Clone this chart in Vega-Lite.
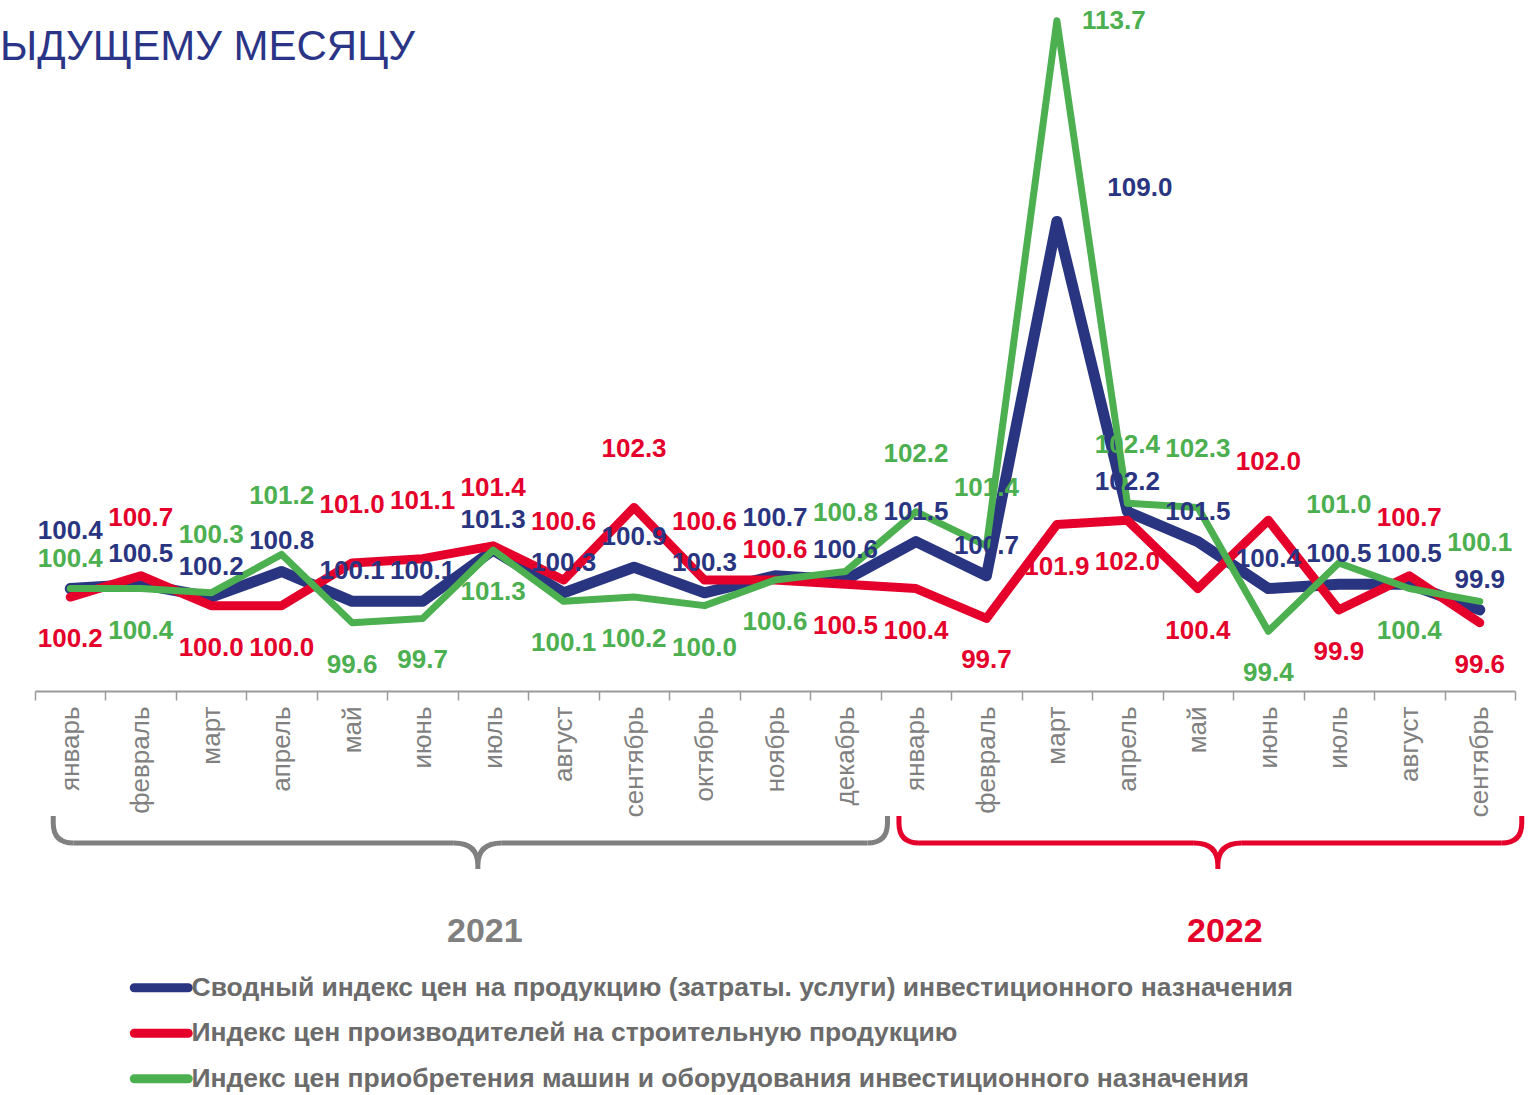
{
  "$schema": "https://vega.github.io/schema/vega-lite/v6.json",
  "padding": {"left": 0, "top": 7, "right": 0, "bottom": 0},
  "background": "white",
  "config": {"view": {"stroke": null}, "font": "Liberation Sans"},
  "title": {
    "text": "ЫДУЩЕМУ МЕСЯЦУ",
    "anchor": "start",
    "frame": "group",
    "dx": -35,
    "offset": -61,
    "fontSize": 42,
    "font": "Liberation Sans",
    "fontWeight": "normal",
    "color": "#2B3587"
  },
  "datasets": {
    "months": [
      {"n": 1, "m": "январь 2021", "year": "2021", "a": 100.4, "b": 100.2, "c": 100.4},
      {"n": 2, "m": "февраль 2021", "year": "2021", "a": 100.5, "b": 100.7, "c": 100.4},
      {"n": 3, "m": "март 2021", "year": "2021", "a": 100.2, "b": 100.0, "c": 100.3},
      {"n": 4, "m": "апрель 2021", "year": "2021", "a": 100.8, "b": 100.0, "c": 101.2},
      {"n": 5, "m": "май 2021", "year": "2021", "a": 100.1, "b": 101.0, "c": 99.6},
      {"n": 6, "m": "июнь 2021", "year": "2021", "a": 100.1, "b": 101.1, "c": 99.7},
      {"n": 7, "m": "июль 2021", "year": "2021", "a": 101.3, "b": 101.4, "c": 101.3},
      {"n": 8, "m": "август 2021", "year": "2021", "a": 100.3, "b": 100.6, "c": 100.1},
      {"n": 9, "m": "сентябрь 2021", "year": "2021", "a": 100.9, "b": 102.3, "c": 100.2},
      {"n": 10, "m": "октябрь 2021", "year": "2021", "a": 100.3, "b": 100.6, "c": 100.0},
      {"n": 11, "m": "ноябрь 2021", "year": "2021", "a": 100.7, "b": 100.6, "c": 100.6},
      {"n": 12, "m": "декабрь 2021", "year": "2021", "a": 100.6, "b": 100.5, "c": 100.8},
      {"n": 13, "m": "январь 2022", "year": "2022", "a": 101.5, "b": 100.4, "c": 102.2},
      {"n": 14, "m": "февраль 2022", "year": "2022", "a": 100.7, "b": 99.7, "c": 101.4},
      {"n": 15, "m": "март 2022", "year": "2022", "a": 109.0, "b": 101.9, "c": 113.7},
      {"n": 16, "m": "апрель 2022", "year": "2022", "a": 102.2, "b": 102.0, "c": 102.4},
      {"n": 17, "m": "май 2022", "year": "2022", "a": 101.5, "b": 100.4, "c": 102.3},
      {"n": 18, "m": "июнь 2022", "year": "2022", "a": 100.4, "b": 102.0, "c": 99.4},
      {"n": 19, "m": "июль 2022", "year": "2022", "a": 100.5, "b": 99.9, "c": 101.0},
      {"n": 20, "m": "август 2022", "year": "2022", "a": 100.5, "b": 100.7, "c": 100.4},
      {"n": 21, "m": "сентябрь 2022", "year": "2022", "a": 99.9, "b": 99.6, "c": 100.1}
    ],
    "names": [
      {"key": "a", "name": "Сводный индекс цен на продукцию (затраты. услуги) инвестиционного назначения"},
      {"key": "b", "name": "Индекс цен производителей на строительную продукцию"},
      {"key": "c", "name": "Индекс цен приобретения машин и оборудования инвестиционного назначения"}
    ]
  },
  "spacing": 0,
  "bounds": "flush",
  "resolve": {"scale": {"color": "independent", "x": "independent"}, "legend": {"color": "independent"}},
  "vconcat": [
    {
      "width": 1480,
      "height": 683,
      "data": {"name": "months"},
      "transform": [
        {"fold": ["a", "b", "c"], "as": ["key", "v"]},
        {"lookup": "key", "from": {"data": {"name": "names"}, "key": "key", "fields": ["name"]}},
        {"window": [{"op": "row_number", "as": "rank"}], "groupby": ["n"], "sort": [{"field": "v", "order": "descending"}]}
      ],
      "encoding": {
        "x": {
          "field": "m",
          "type": "ordinal",
          "sort": {"field": "n", "op": "min"},
          "bandPosition": 0.5,
          "scale": {"type": "band", "paddingInner": 0, "paddingOuter": 0},
          "axis": {
            "title": null,
            "labelAngle": -90,
            "labelFontSize": 26,
            "labelFont": "Liberation Sans",
            "labelColor": "#808080",
            "labelExpr": "split(datum.label, ' ')[0]",
            "labelPadding": 6,
            "labelOverlap": false,
            "labelBound": false,
            "domainColor": "#9A9A9A",
            "domainWidth": 2,
            "tickColor": "#9A9A9A",
            "tickWidth": 1.5,
            "tickSize": 9,
            "tickBand": "extent",
            "grid": false
          }
        },
        "y": {"field": "v", "type": "quantitative", "scale": {"domain": [98, 114], "nice": false, "zero": false}, "axis": null}
      },
      "layer": [
        {
          "mark": {"type": "line", "strokeCap": "round", "strokeJoin": "round"},
          "encoding": {
            "color": {
              "field": "name",
              "type": "nominal",
              "scale": {
                "domain": [
                  "Сводный индекс цен на продукцию (затраты. услуги) инвестиционного назначения",
                  "Индекс цен производителей на строительную продукцию",
                  "Индекс цен приобретения машин и оборудования инвестиционного назначения"
                ],
                "range": ["#2A3582", "#E4002B", "#4CAF50"]
              },
              "legend": {
                "orient": "none",
                "legendX": 113,
                "legendY": 966.5,
                "direction": "vertical",
                "title": null,
                "padding": 0,
                "labelFont": "Liberation Sans",
                "labelFontWeight": "bold",
                "labelFontSize": 26.5,
                "labelColor": "#6B6B6B",
                "labelLimit": 0,
                "labelOffset": 17,
                "rowPadding": 17.5,
                "symbolType": "M-2.7,-0.15 L2.7,-0.15 A0.15,0.15 0 0 1 2.7,0.15 L-2.7,0.15 A0.15,0.15 0 0 1 -2.7,-0.15 Z",
                "symbolSize": 400,
                "symbolStrokeWidth": 6
              }
            },
            "strokeWidth": {"field": "key", "type": "nominal", "scale": {"domain": ["a", "b", "c"], "range": [11, 7, 8]}, "legend": null}
          }
        },
        {
          "transform": [{"filter": "datum.rank == 1 && datum.v < 105"}],
          "mark": {"type": "text", "dy": -58, "fontSize": 26, "fontWeight": "bold", "font": "Liberation Sans"},
          "encoding": {
            "text": {"field": "v", "type": "quantitative", "format": ".1f"},
            "fill": {"field": "key", "type": "nominal", "scale": {"domain": ["a", "b", "c"], "range": ["#2A3582", "#E4002B", "#4CAF50"]}, "legend": null}
          }
        },
        {
          "transform": [{"filter": "datum.rank == 2 && datum.v < 105"}],
          "mark": {"type": "text", "dy": -30, "fontSize": 26, "fontWeight": "bold", "font": "Liberation Sans"},
          "encoding": {
            "text": {"field": "v", "type": "quantitative", "format": ".1f"},
            "fill": {"field": "key", "type": "nominal", "scale": {"domain": ["a", "b", "c"], "range": ["#2A3582", "#E4002B", "#4CAF50"]}, "legend": null}
          }
        },
        {
          "transform": [{"filter": "datum.rank == 3 && datum.v < 105"}],
          "mark": {"type": "text", "dy": 42, "fontSize": 26, "fontWeight": "bold", "font": "Liberation Sans"},
          "encoding": {
            "text": {"field": "v", "type": "quantitative", "format": ".1f"},
            "fill": {"field": "key", "type": "nominal", "scale": {"domain": ["a", "b", "c"], "range": ["#2A3582", "#E4002B", "#4CAF50"]}, "legend": null}
          }
        },
        {
          "transform": [{"filter": "datum.rank == 1 && datum.v >= 105"}],
          "mark": {"type": "text", "dx": 57, "dy": 0, "fontSize": 26, "fontWeight": "bold", "font": "Liberation Sans"},
          "encoding": {
            "text": {"field": "v", "type": "quantitative", "format": ".1f"},
            "fill": {"field": "key", "type": "nominal", "scale": {"domain": ["a", "b", "c"], "range": ["#2A3582", "#E4002B", "#4CAF50"]}, "legend": null}
          }
        },
        {
          "transform": [{"filter": "datum.rank == 2 && datum.v >= 105"}],
          "mark": {"type": "text", "dx": 83, "dy": -33, "fontSize": 26, "fontWeight": "bold", "font": "Liberation Sans"},
          "encoding": {
            "text": {"field": "v", "type": "quantitative", "format": ".1f"},
            "fill": {"field": "key", "type": "nominal", "scale": {"domain": ["a", "b", "c"], "range": ["#2A3582", "#E4002B", "#4CAF50"]}, "legend": null}
          }
        }
      ]
    },
    {
      "width": 1480,
      "height": 304,
      "data": {"name": "months"},
      "transform": [
        {"aggregate": [{"op": "min", "field": "n", "as": "lo"}, {"op": "mean", "field": "n", "as": "mid"}, {"op": "max", "field": "n", "as": "hi"}], "groupby": ["year"]}
      ],
      "encoding": {
        "color": {"field": "year", "type": "nominal", "scale": {"domain": ["2021", "2022"], "range": ["#808080", "#E4002B"]}, "legend": null}
      },
      "layer": [
        {
          "mark": {"type": "rule", "strokeWidth": 5, "xOffset": 3, "x2Offset": -4},
          "encoding": {
            "x": {"field": "lo", "type": "quantitative", "scale": {"domain": [0.5, 21.5], "nice": false, "zero": false}, "axis": null},
            "x2": {"field": "mid"}
          }
        },
        {
          "mark": {"type": "rule", "strokeWidth": 5, "xOffset": 44, "x2Offset": 22},
          "encoding": {
            "x": {"field": "mid", "type": "quantitative", "scale": {"domain": [0.5, 21.5], "nice": false, "zero": false}, "axis": null},
            "x2": {"field": "hi"}
          }
        },
        {
          "mark": {"type": "point", "shape": "M-17,-27 L-17,-20 Q-17,0 3,0", "size": 4, "filled": false, "strokeWidth": 5, "opacity": 1},
          "encoding": {
            "x": {"field": "lo", "type": "quantitative", "scale": {"domain": [0.5, 21.5], "nice": false, "zero": false}, "axis": null}
          }
        },
        {
          "mark": {"type": "point", "shape": "M22,0 Q42,0 42,-20 L42,-27", "size": 4, "filled": false, "strokeWidth": 5, "opacity": 1},
          "encoding": {
            "x": {"field": "hi", "type": "quantitative", "scale": {"domain": [0.5, 21.5], "nice": false, "zero": false}, "axis": null}
          }
        },
        {
          "mark": {"type": "point", "shape": "M-24,0 Q0,0 0,22 L0,26 M24,0 Q0,0 0,22", "size": 4, "filled": false, "strokeWidth": 5, "opacity": 1, "xOffset": 20},
          "encoding": {
            "x": {"field": "mid", "type": "quantitative", "scale": {"domain": [0.5, 21.5], "nice": false, "zero": false}, "axis": null}
          }
        },
        {
          "mark": {"type": "text", "dx": 27, "dy": 89, "fontSize": 34, "fontWeight": "bold", "font": "Liberation Sans"},
          "encoding": {
            "x": {"field": "mid", "type": "quantitative", "scale": {"domain": [0.5, 21.5], "nice": false, "zero": false}, "axis": null},
            "text": {"field": "year", "type": "nominal"}
          }
        }
      ]
    }
  ]
}
